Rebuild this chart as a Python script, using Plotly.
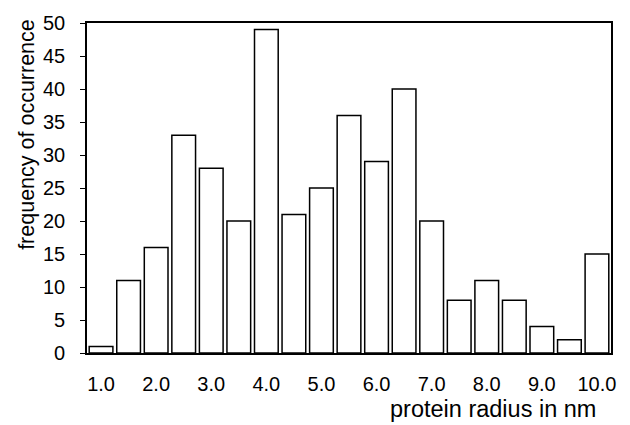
import plotly.graph_objects as go

radius_nm = [1.0, 1.5, 2.0, 2.5, 3.0, 3.5, 4.0, 4.5, 5.0, 5.5, 6.0, 6.5, 7.0, 7.5, 8.0, 8.5, 9.0, 9.5, 10.0]
frequency = [1, 11, 16, 33, 28, 20, 49, 21, 25, 36, 29, 40, 20, 8, 11, 8, 4, 2, 15]
x_ticks = [1.0, 2.0, 3.0, 4.0, 5.0, 6.0, 7.0, 8.0, 9.0, 10.0]
y_ticks = [0, 5, 10, 15, 20, 25, 30, 35, 40, 45, 50]

FONT = "Liberation Sans, Arial, sans-serif"
PAD = "\u00a0\u00a0"

fig = go.Figure(go.Bar(
    x=radius_nm, y=frequency, width=0.43,
    marker=dict(color="white", line=dict(color="black", width=1.5)),
))

fig.update_layout(
    width=630, height=425,
    margin=dict(l=87, r=19, t=17, b=72),
    paper_bgcolor="white", plot_bgcolor="white",
    showlegend=False,
    font=dict(family=FONT, size=20, color="black"),
    xaxis=dict(range=[0.745, 10.255], tickvals=x_ticks, tickformat=".1f",
               showgrid=False, zeroline=False, showline=True, linecolor="black",
               linewidth=1.5, mirror=True, ticks="", ticklen=0,
               ticklabelstandoff=12, tickfont=dict(size=20)),
    yaxis=dict(range=[0, 50], tickvals=y_ticks,
               ticktext=[f"{v}{PAD}" for v in y_ticks],
               showgrid=False, zeroline=False,
               showline=True, linecolor="black", linewidth=1.5, mirror=True,
               ticks="outside", ticklen=5, tickcolor="black", tickwidth=1,
               tickfont=dict(size=20)),
    annotations=[
        dict(text="protein radius in nm", xref="paper", yref="paper",
             x=0.975, y=-0.17, xanchor="right", yanchor="middle",
             showarrow=False, font=dict(size=23.5)),
        dict(text="frequency of occurrence", xref="paper", yref="paper",
             x=-0.1145, y=0.661, xanchor="center", yanchor="middle",
             textangle=-90, showarrow=False, font=dict(size=21.5)),
    ],
)

fig.write_html("out.html", config={"displayModeBar": False},
               post_script="document.body.style.margin='0';document.body.style.padding='0';")
